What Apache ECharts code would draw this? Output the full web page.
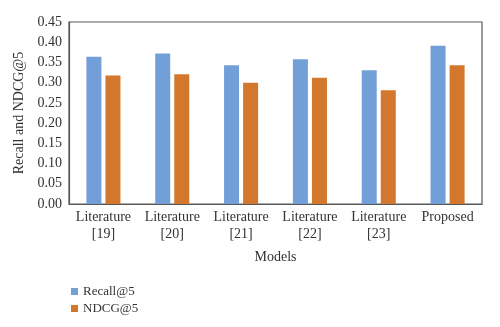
<!DOCTYPE html>
<html><head><meta charset="utf-8">
<script src="https://cdn.jsdelivr.net/npm/echarts@6/dist/echarts.min.js"></script>
<style>html,body{margin:0;padding:0;background:#fff}#c{width:500px;height:327px}</style>
</head><body><div id="c"></div>
<script>
const categories = ["Literature\n[19]", "Literature\n[20]", "Literature\n[21]", "Literature\n[22]", "Literature\n[23]", "Proposed"];
const recall = [0.364, 0.372, 0.343, 0.358, 0.331, 0.391];
const ndcg = [0.318, 0.321, 0.300, 0.312, 0.281, 0.343];
const seriesNames = ["Recall@5", "NDCG@5"];
const font = "Liberation Serif";
const chart = echarts.init(document.getElementById('c'), null, {renderer: 'canvas'});
chart.setOption({
  animation: false,
  textStyle: {fontFamily: font},
  grid: {left: 69, right: 18, top: 22, bottom: 123, show: true, borderColor: '#595959', borderWidth: 1.2},
  legend: {
    orient: 'vertical', left: 66, top: 280, itemWidth: 7, itemHeight: 7, itemGap: 4,
    icon: 'rect',
    textStyle: {fontFamily: font, fontSize: 13, color: '#333'},
    data: seriesNames
  },
  xAxis: {
    type: 'category', data: categories,
    name: 'Models', nameLocation: 'middle', nameGap: 46,
    nameTextStyle: {fontFamily: font, fontSize: 14, color: '#333'},
    axisLine: {lineStyle: {color: '#595959', width: 1.2}},
    axisTick: {show: false},
    axisLabel: {fontFamily: font, fontSize: 14, color: '#333', lineHeight: 17, margin: 5, interval: 0}
  },
  yAxis: {
    type: 'value', min: 0, max: 0.45, interval: 0.05,
    name: 'Recall and NDCG@5', nameLocation: 'middle', nameGap: 36,
    nameTextStyle: {fontFamily: font, fontSize: 14, color: '#333'},
    axisLine: {show: true, lineStyle: {color: '#595959', width: 1.2}},
    axisTick: {show: false},
    splitLine: {show: false},
    axisLabel: {fontFamily: font, fontSize: 14, color: '#333', margin: 7, formatter: v => v.toFixed(2)}
  },
  series: [
    {name: seriesNames[0], type: 'bar', data: recall, barWidth: 15, barGap: '27%', itemStyle: {color: '#729fd8'}},
    {name: seriesNames[1], type: 'bar', data: ndcg, barWidth: 15, itemStyle: {color: '#d2772b'}}
  ]
});
</script></body></html>
